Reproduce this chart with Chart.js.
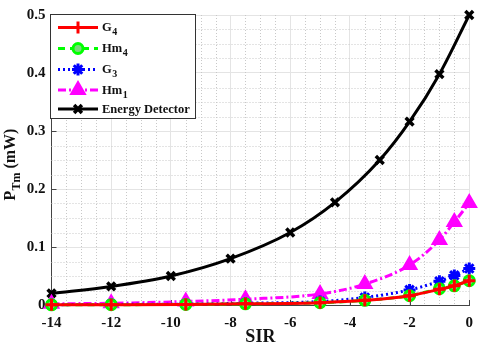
<!DOCTYPE html>
<html>
<head>
<meta charset="utf-8">
<script src="https://cdn.jsdelivr.net/npm/chart.js@4"></script>
<style>
  html, body { margin: 0; padding: 0; background: #fff; }
  #wrap { width: 482px; height: 346px; }
</style>
</head>
<body>
<div id="wrap"><canvas id="c" width="482" height="346"></canvas></div>
<script>
// SIR values (dB) where the markers sit
var sirED = [-14, -12, -10, -8, -6, -4.5, -3, -2, -1, 0];
var sirOther = [-14, -12, -9.5, -7.5, -5, -3.5, -2, -1, -0.5, 0];

// P_Tm (mW)
var energyDetector = [0.020, 0.032, 0.050, 0.080, 0.125, 0.177, 0.250, 0.316, 0.398, 0.500];
var hm1 = [0.002, 0.003, 0.006, 0.010, 0.019, 0.036, 0.069, 0.112, 0.143, 0.176];
var g3 = [0.0005, 0.001, 0.0015, 0.003, 0.006, 0.013, 0.026, 0.041, 0.051, 0.063];
var hm4 = [0.0003, 0.0005, 0.001, 0.002, 0.004, 0.008, 0.016, 0.028, 0.033, 0.042];
var g4 = [0.0003, 0.0005, 0.001, 0.002, 0.004, 0.008, 0.016, 0.027, 0.033, 0.042];

var legendNames = [['G', '4'], ['Hm', '4'], ['G', '3'], ['Hm', '1'], ['Energy Detector', '']];

var SERIF = '"Liberation Serif", "Times New Roman", serif';

function pts(xs, ys) {
  return xs.map(function (x, i) { return { x: x, y: ys[i] }; });
}

function series(data, color, dash, style, radius, fillColor) {
  return {
    data: data,
    borderColor: color,
    backgroundColor: fillColor || color,
    borderWidth: 3,
    borderDash: dash,
    pointStyle: style,
    pointRadius: radius,
    pointBorderWidth: 3,
    pointBorderColor: color,
    pointBackgroundColor: fillColor || color,
    cubicInterpolationMode: 'monotone',
    clip: false,
    fill: false
  };
}

var datasets = [
  series(pts(sirOther, g4), '#ff0000', [], 'cross', 6),
  series(pts(sirOther, hm4), '#00ff00', [7, 5], 'circle', 5, '#7ad97a'),
  series(pts(sirOther, g3), '#0000ff', [2, 3], 'star', 6),
  series(pts(sirOther, hm1), '#ff00ff', [8, 3, 2, 3], 'triangle', 7),
  series(pts(sirED, energyDetector), '#000000', [], 'crossRot', 5.5)
];
datasets[4].pointBorderWidth = 3.5;

// dotted minor grid + inward tick marks
var minorGrid = {
  id: 'minorGrid',
  beforeDatasetsDraw: function (chart) {
    var ctx = chart.ctx, a = chart.chartArea;
    var xs = chart.scales.x, ys = chart.scales.y;
    ctx.save();
    ctx.strokeStyle = '#c8c8c8';
    ctx.lineWidth = 1;
    ctx.setLineDash([1, 2]);
    for (var i = 1; i < 28; i++) {
      if (i % 4 === 0) continue;
      var px = Math.round(xs.getPixelForValue(-14 + i * 0.5)) + 0.5;
      ctx.beginPath(); ctx.moveTo(px, a.top); ctx.lineTo(px, a.bottom); ctx.stroke();
    }
    for (var j = 1; j < 20; j++) {
      if (j % 4 === 0) continue;
      var py = Math.round(ys.getPixelForValue(j * 0.025)) + 0.5;
      ctx.beginPath(); ctx.moveTo(a.left, py); ctx.lineTo(a.right, py); ctx.stroke();
    }
    ctx.setLineDash([]);
    ctx.strokeStyle = '#444';
    xs.ticks.forEach(function (t) {
      var px = Math.round(xs.getPixelForValue(t.value)) + 0.5;
      ctx.beginPath(); ctx.moveTo(px, a.bottom); ctx.lineTo(px, a.bottom - 5); ctx.stroke();
    });
    ys.ticks.forEach(function (t) {
      var py = Math.round(ys.getPixelForValue(t.value)) + 0.5;
      ctx.beginPath(); ctx.moveTo(a.left, py); ctx.lineTo(a.left + 5, py); ctx.stroke();
    });
    ctx.restore();
  }
};

function drawMarker(ctx, ds, x, y) {
  if (Chart.helpers && Chart.helpers.drawPoint) {
    ctx.fillStyle = ds.pointBackgroundColor;
    ctx.strokeStyle = ds.pointBorderColor;
    ctx.lineWidth = ds.pointBorderWidth;
    Chart.helpers.drawPoint(ctx, { pointStyle: ds.pointStyle, radius: ds.pointRadius, rotation: 0, borderWidth: ds.pointBorderWidth }, x, y);
  }
}

// legend + y axis label (both need subscripts)
var extras = {
  id: 'extras',
  afterDraw: function (chart) {
    var ctx = chart.ctx;
    ctx.save();
    // legend box
    var bx = 50.5, by = 14.5, bw = 145, bh = 104;
    ctx.fillStyle = '#fff';
    ctx.fillRect(bx, by, bw, bh);
    ctx.strokeStyle = '#333';
    ctx.lineWidth = 1;
    ctx.strokeRect(bx, by, bw, bh);
    var rows = [27.5, 48.5, 69.5, 90, 109];
    datasets.forEach(function (ds, i) {
      var ry = rows[i];
      ctx.save();
      ctx.strokeStyle = ds.borderColor;
      ctx.lineWidth = ds.borderWidth;
      ctx.setLineDash(ds.borderDash);
      ctx.beginPath(); ctx.moveTo(58, ry); ctx.lineTo(98, ry); ctx.stroke();
      ctx.setLineDash([]);
      drawMarker(ctx, ds, 78, ry);
      ctx.restore();
      ctx.fillStyle = '#111';
      ctx.textBaseline = 'alphabetic';
      ctx.textAlign = 'left';
      ctx.font = 'bold 12.5px ' + SERIF;
      var name = legendNames[i];
      ctx.fillText(name[0], 102, ry + 3.5);
      if (name[1]) {
        var w = ctx.measureText(name[0]).width;
        ctx.font = 'bold 10px ' + SERIF;
        ctx.fillText(name[1], 102 + w + 0.5, ry + 7.5);
      }
    });
    // y axis title P_Tm (mW)
    ctx.translate(15, 164.5);
    ctx.rotate(-Math.PI / 2);
    ctx.fillStyle = '#111';
    ctx.textBaseline = 'alphabetic';
    ctx.textAlign = 'left';
    var big = 'bold 16px ' + SERIF, small = 'bold 12px ' + SERIF;
    ctx.font = big; var wP = ctx.measureText('P').width; var wU = ctx.measureText(' (mW)').width;
    ctx.font = small; var wS = ctx.measureText('Tm').width;
    var x0 = -(wP + wS + wU) / 2;
    ctx.font = big; ctx.fillText('P', x0, 0);
    ctx.font = small; ctx.fillText('Tm', x0 + wP, 5);
    ctx.font = big; ctx.fillText(' (mW)', x0 + wP + wS, 0);
    ctx.restore();
  }
};

var tickFont = { family: SERIF, size: 15, weight: 'bold' };

new Chart(document.getElementById('c'), {
  type: 'line',
  data: { datasets: datasets },
  options: {
    responsive: false,
    animation: false,
    layout: { padding: { top: 13, right: 9, left: 0, bottom: 0 } },
    plugins: { legend: { display: false }, tooltip: { enabled: false } },
    scales: {
      x: {
        type: 'linear',
        min: -14, max: 0,
        ticks: { stepSize: 2, font: tickFont, color: '#111', padding: 9, maxRotation: 0 },
        grid: { color: '#e4e4e4', drawTicks: false },
        border: { color: '#444', width: 1 },
        title: { display: true, text: 'SIR', font: { family: SERIF, size: 18, weight: 'bold', lineHeight: 1 }, color: '#111', padding: 0 },
        afterFit: function (s) { s.height = 41; }
      },
      y: {
        min: 0, max: 0.5,
        ticks: {
          stepSize: 0.1, font: tickFont, color: '#111', padding: 6,
          callback: function (v) { return v === 0 ? '0' : v.toFixed(1); }
        },
        grid: { color: '#e4e4e4', drawTicks: false },
        border: { color: '#444', width: 1 },
        afterFit: function (s) { s.width = 51.5; }
      }
    }
  },
  plugins: [minorGrid, extras]
});
</script>
</body>
</html>
